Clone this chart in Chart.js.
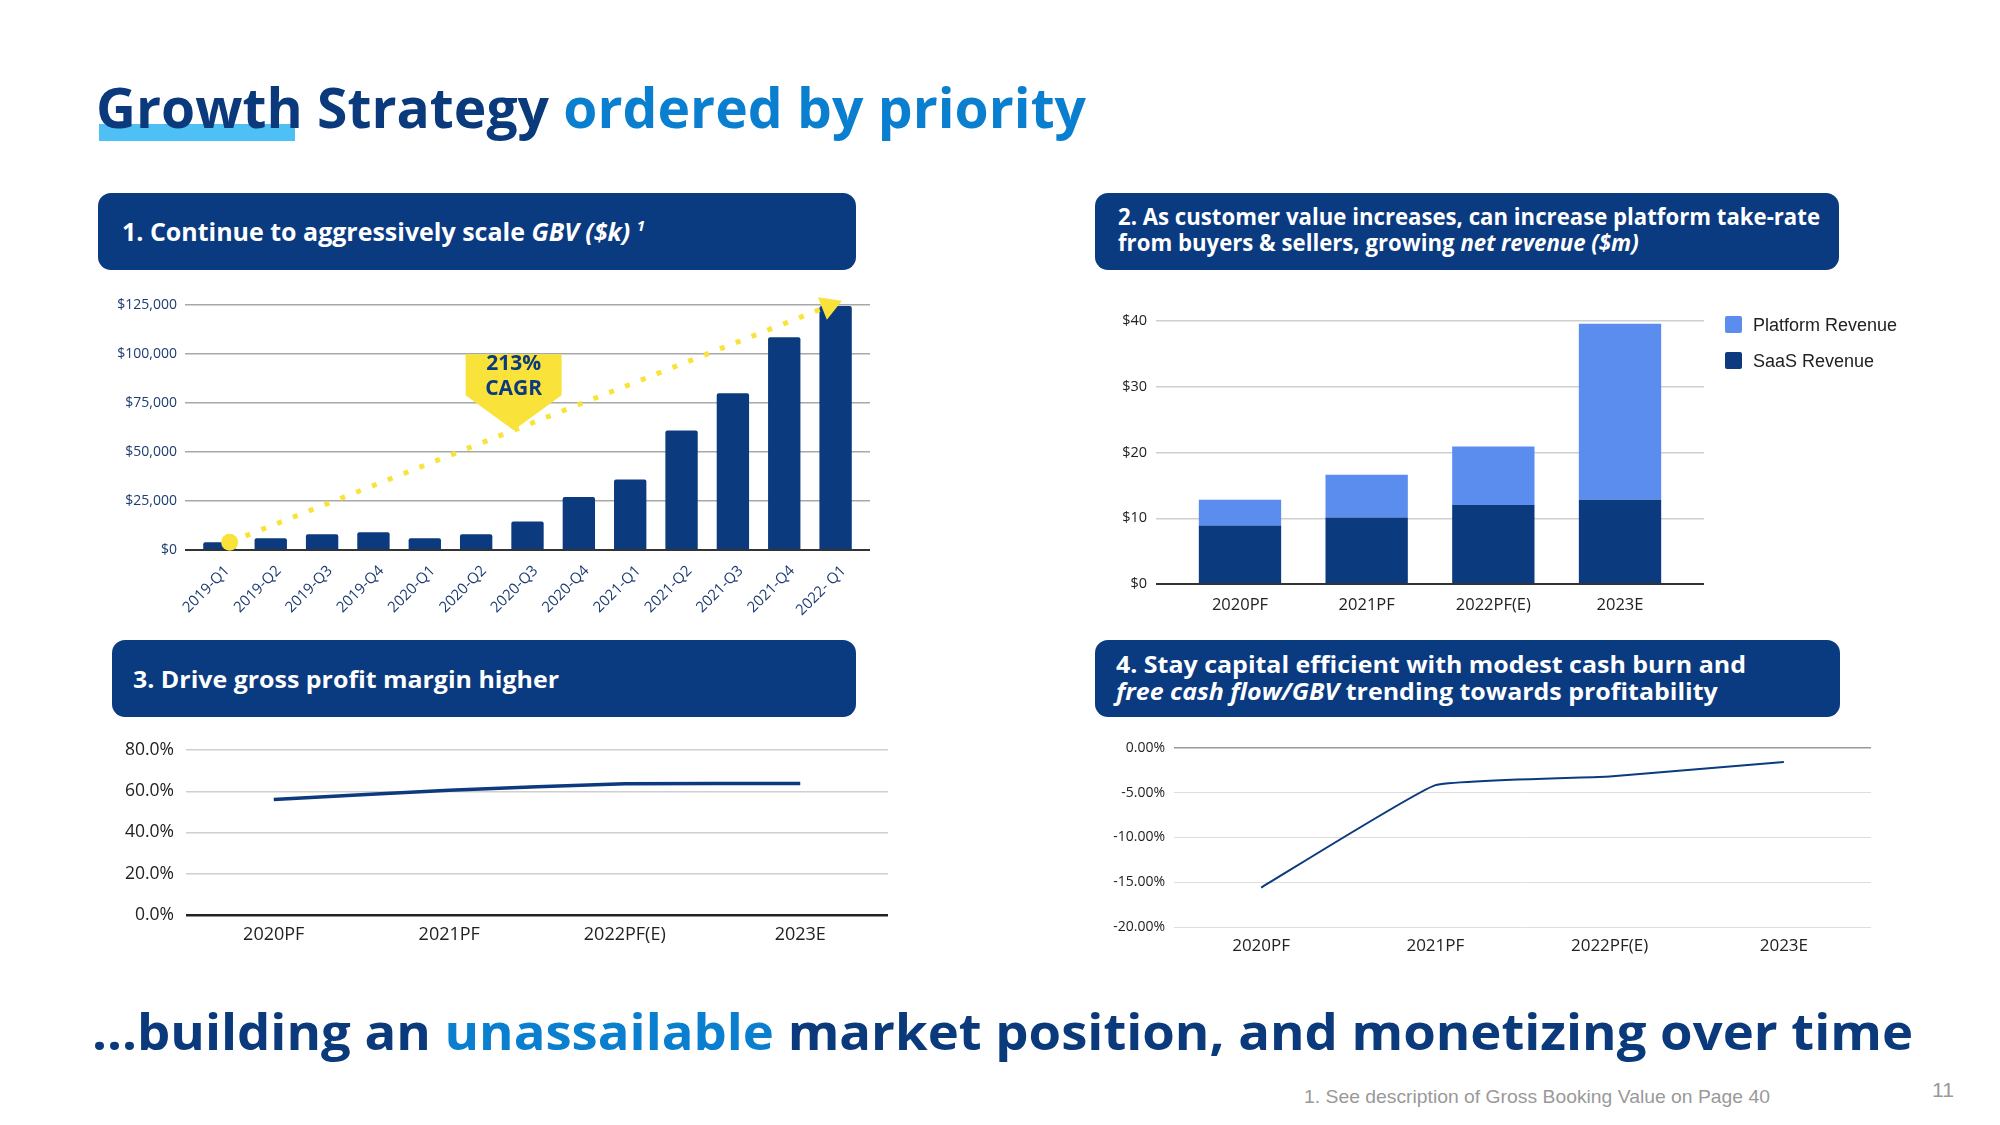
<!DOCTYPE html>
<html><head><meta charset="utf-8">
<script src="https://cdn.jsdelivr.net/npm/chart.js@4"></script>
<style>
html,body{margin:0;padding:0;background:#fff;}
body{width:2000px;height:1125px;position:relative;overflow:hidden;font-family:'Open Sans',sans-serif;}
.t{position:absolute;white-space:nowrap;line-height:1;transform-origin:0 0;}
.box{position:absolute;background:#0a3a80;border-radius:13px;}
canvas{position:absolute;}
.hl{position:absolute;background:#4fc0f5;}
.lg{position:absolute;width:17px;height:17px;border-radius:2px;}
</style></head><body>
<div class="hl" style="left:99px;top:124px;width:196px;height:17px"></div>
<div class="box" style="left:98px;top:193px;width:758px;height:77px"></div>
<div class="box" style="left:1095px;top:193px;width:744px;height:77px"></div>
<div class="box" style="left:112px;top:640px;width:744px;height:77px"></div>
<div class="box" style="left:1095px;top:640px;width:745px;height:77px"></div>
<canvas id="c1" width="800" height="370" style="left:90px;top:290px"></canvas>
<canvas id="c2" width="640" height="340" style="left:1100px;top:290px"></canvas>
<canvas id="c3" width="820" height="230" style="left:90px;top:735px"></canvas>
<canvas id="c4" width="800" height="240" style="left:1090px;top:735px"></canvas>
<script>
// ---------- data ----------
const gbvCats = ['2019-Q1','2019-Q2','2019-Q3','2019-Q4','2020-Q1','2020-Q2','2020-Q3','2020-Q4','2021-Q1','2021-Q2','2021-Q3','2021-Q4','2022- Q1'];
const gbvValues = [4000,6000,8000,9000,6000,8000,14500,27000,36000,61000,80000,108500,124500];
const gbvTicks = [0,25000,50000,75000,100000,125000];
const trendX = [0.2, 11.87];
const trendY = [4000, 124500];
const cagrAt = 5.73;
const cagrLabel = ['213%','CAGR'];

const revCats = ['2020PF','2021PF','2022PF(E)','2023E'];
const saasRevenue = [8.9,10.1,12.0,12.8];
const platformRevenue = [3.9,6.5,8.9,26.8];
const revTicks = [0,10,20,30,40];

const marginCats = ['2020PF','2021PF','2022PF(E)','2023E'];
const grossMargin = [56.0,60.5,63.6,63.8];
const marginTicks = [0,20,40,60,80];

const fcfCats = ['2020PF','2021PF','2022PF(E)','2023E'];
const fcfToGbv = [-15.6,-4.15,-3.18,-1.57];
const fcfTicks = [-20,-15,-10,-5,0];

// ---------- styles ----------
const NAVY='#0b3a7e', LIGHT='#5b8def', YEL='#f9e23a', DARKTXT='#222';
Chart.defaults.font.family="'Open Sans', sans-serif";

const texts = [
 {html:'<span style="color:#0b3a7c">Growth Strategy</span> <span style="color:#0a7ecf">ordered by priority</span>', left:96, base:128, size:56, width:990},
 {html:'1. Continue to aggressively scale <i>GBV ($k)</i> <i style="font-size:0.6em;position:relative;top:-0.7em">1</i>', left:122, base:241, size:25, width:523, color:'#fff'},
 {html:'2. As customer value increases, can increase platform take-rate', left:1118, base:225, size:22.5, width:702, color:'#fff', key:'h2'},
 {html:'from buyers &amp; sellers, growing <i>net revenue ($m)</i>', left:1118, base:251, size:22.5, color:'#fff', same:'h2'},
 {html:'3. Drive gross profit margin higher', left:133, base:688, size:24, width:426, color:'#fff'},
 {html:'4. Stay capital efficient with modest cash burn and', left:1116, base:673, size:22.5, width:630, color:'#fff', key:'h4'},
 {html:'<i>free cash flow/GBV</i> trending towards profitability', left:1116, base:700, size:22.5, color:'#fff', same:'h4'},
 {html:'...building an <span style="color:#0a7ecf">unassailable</span> market position, and monetizing over time', left:92, base:1050, size:50, width:1821, color:'#0b3a7c'},
 {html:'1. See description of Gross Booking Value on Page 40', left:1304, base:1103, size:19, width:466, color:'#999', weight:400, family:"'Liberation Sans', Arial, sans-serif"},
 {html:'11', left:1932, base:1097, size:21, width:22, color:'#999', weight:400, family:"'Liberation Sans', Arial, sans-serif"}
];
const scales={};
function placeText(o){
  const d=document.createElement('div'); d.className='t';
  d.style.left=o.left+'px'; d.style.fontSize=o.size+'px'; d.style.fontWeight=o.weight||700;
  d.style.fontFamily=o.family||"'Open Sans', sans-serif"; d.style.color=o.color||'#0b3a7c';
  d.innerHTML=o.html+'<span style="display:inline-block;width:0;height:0"></span>';
  document.body.appendChild(d);
  const off=d.lastChild.offsetTop;
  d.style.top=(o.base-off)+'px';
  let sx=1;
  if(o.width){ sx=o.width/d.getBoundingClientRect().width; }
  else if(o.same){ sx=scales[o.same]; }
  if(o.key) scales[o.key]=sx;
  d.style.transform='scaleX('+sx+')';
}

function gridColor(zero, other){ return c=>c.tick && c.tick.value===0 ? zero : other; }
function fixY(w){ return s=>{ s.width=w; s.paddingTop=0; s.paddingBottom=0; }; }
const base={responsive:false,animation:false,events:[],plugins:{legend:{display:false},tooltip:{enabled:false}}};

function drawCharts(){
 // Chart 1: GBV
 const cagrPlugin={id:'cagr',afterDatasetsDraw(chart){
   const {ctx,scales:{x,y}}=chart;
   const t=(cagrAt-trendX[0])/(trendX[1]-trendX[0]);
   const ax=x.getPixelForValue(cagrAt), ay=y.getPixelForValue(trendY[0]+t*(trendY[1]-trendY[0]));
   const w=96, top=76, mid=35;
   ctx.save(); ctx.fillStyle=YEL; ctx.beginPath();
   ctx.moveTo(ax-w/2,ay-top); ctx.lineTo(ax+w/2,ay-top); ctx.lineTo(ax+w/2,ay-mid);
   ctx.lineTo(ax,ay); ctx.lineTo(ax-w/2,ay-mid); ctx.closePath(); ctx.fill();
   ctx.fillStyle=NAVY; ctx.font="700 21px 'Open Sans'"; ctx.textAlign='center'; ctx.textBaseline='middle';
   ctx.fillText(cagrLabel[0],ax,ay-66); ctx.fillText(cagrLabel[1],ax,ay-41);
   ctx.restore();
 }};
 new Chart(document.getElementById('c1'),{type:'bar',
  data:{datasets:[
   {type:'line',data:trendX.map((x,i)=>({x:x,y:trendY[i]})),borderColor:YEL,borderWidth:5,borderDash:[5,12],borderCapStyle:'butt',fill:false,
    pointRadius:[8.5,14],pointStyle:['circle','triangle'],pointBackgroundColor:YEL,pointBorderWidth:0,pointBorderColor:YEL,
    pointRotation:ctx=>{ if(ctx.dataIndex===0) return 0; const sx=ctx.chart.scales.x, sy=ctx.chart.scales.y;
      const dx=sx.getPixelForValue(trendX[1])-sx.getPixelForValue(trendX[0]);
      const dy=sy.getPixelForValue(trendY[1])-sy.getPixelForValue(trendY[0]);
      return Math.atan2(dx,-dy)*180/Math.PI; },
    order:0,clip:false},
   {type:'bar',data:gbvCats.map((c,i)=>({x:i,y:gbvValues[i]})),backgroundColor:NAVY,barPercentage:0.63,categoryPercentage:1,borderRadius:2,borderSkipped:'bottom',order:1}
  ]},
  options:{...base,layout:{padding:{top:15,right:20,left:0,bottom:0}},
   scales:{
    x:{type:'linear',offset:false,min:-0.67,max:12.67,afterBuildTicks:s=>{s.ticks=gbvCats.map((c,i)=>({value:i}));},afterFit:s=>{s.height=110;},
       grid:{display:false},border:{display:false},
       ticks:{autoSkip:false,minRotation:45,maxRotation:45,padding:4,labelOffset:8,color:'#1e3c72',font:{size:15},callback:v=>gbvCats[Math.round(v)]}},
    y:{min:0,max:125000,afterBuildTicks:s=>{s.ticks=gbvTicks.map(v=>({value:v}));},afterFit:fixY(95),border:{display:false},
       grid:{drawTicks:false,color:gridColor('#333','#a8a8a8'),lineWidth:c=>c.tick&&c.tick.value===0?2:1.5},
       ticks:{padding:8,color:'#1e3c72',font:{size:14},callback:v=>'$'+Number(v).toLocaleString('en-US')}}
   }},
  plugins:[cagrPlugin]});

 // Chart 2: revenue stacked
 const revSets=[
  {label:'SaaS Revenue',data:revCats.map((c,i)=>({x:i,y:saasRevenue[i]})),backgroundColor:NAVY},
  {label:'Platform Revenue',data:revCats.map((c,i)=>({x:i,y:platformRevenue[i]})),backgroundColor:LIGHT}
 ];
 revSets.forEach(d=>{d.barPercentage=0.65;d.categoryPercentage=1;d.borderRadius=0;});
 new Chart(document.getElementById('c2'),{type:'bar',data:{datasets:revSets},
  options:{...base,layout:{padding:{top:31,right:36,left:0,bottom:0}},
   scales:{
    x:{type:'linear',offset:false,stacked:true,min:-0.663,max:3.663,afterBuildTicks:s=>{s.ticks=revCats.map((c,i)=>({value:i}));},afterFit:s=>{s.height=46;},
       grid:{display:false,drawTicks:false},border:{display:false},
       ticks:{autoSkip:false,maxRotation:0,padding:11,color:DARKTXT,font:{size:16.5},callback:v=>revCats[Math.round(v)]}},
    y:{stacked:true,min:0,max:40,afterBuildTicks:s=>{s.ticks=revTicks.map(v=>({value:v}));},afterFit:fixY(56),border:{display:false},
       grid:{drawTicks:false,color:gridColor('#333','#cfcfcf'),lineWidth:c=>c.tick&&c.tick.value===0?2:1.5},
       ticks:{padding:9,color:DARKTXT,font:{size:14.5},callback:v=>'$'+v}}
   }}});
 // HTML legend (reverse dataset order, as in the reference)
 revSets.slice().reverse().forEach((d,i)=>{
   const sq=document.createElement('div'); sq.className='lg'; sq.style.left='1725px'; sq.style.top=(316+i*36)+'px'; sq.style.background=d.backgroundColor; document.body.appendChild(sq);
   placeText({html:d.label,left:1753,base:331+i*36,size:18,color:'#222',weight:400,family:"'Liberation Sans', Arial, sans-serif"});
 });

 // Chart 3: gross margin
 new Chart(document.getElementById('c3'),{type:'line',
  data:{labels:marginCats,datasets:[{data:grossMargin,borderColor:NAVY,borderWidth:3.5,pointRadius:0,tension:0.15,fill:false}]},
  options:{...base,layout:{padding:{top:15,right:22,left:0,bottom:0}},
   scales:{
    x:{offset:true,afterFit:s=>{s.height=50;},grid:{display:false,drawTicks:false},border:{display:false},ticks:{padding:9,color:DARKTXT,font:{size:18}}},
    y:{min:0,max:80,afterBuildTicks:s=>{s.ticks=marginTicks.map(v=>({value:v}));},afterFit:fixY(96),border:{display:false},
       grid:{drawTicks:false,color:gridColor('#222','#cfcfcf'),lineWidth:c=>c.tick&&c.tick.value===0?2.5:1.5},
       ticks:{padding:12,color:DARKTXT,font:{size:17.5},callback:v=>Number(v).toFixed(1)+'%'}}
   }}});

 // Chart 4: FCF / GBV
 new Chart(document.getElementById('c4'),{type:'line',
  data:{labels:fcfCats,datasets:[{data:fcfToGbv,borderColor:NAVY,borderWidth:2,pointRadius:0,tension:0.1,fill:false}]},
  options:{...base,layout:{padding:{top:13,right:19,left:0,bottom:0}},
   scales:{
    x:{offset:true,afterFit:s=>{s.height=48;},grid:{display:false,drawTicks:false},border:{display:false},ticks:{padding:9,color:DARKTXT,font:{size:17}}},
    y:{min:-20,max:0,afterBuildTicks:s=>{s.ticks=fcfTicks.map(v=>({value:v}));},afterFit:fixY(84),border:{display:false},
       grid:{drawTicks:false,color:gridColor('#999','#dedede'),lineWidth:c=>c.tick&&c.tick.value===0?1.5:1},
       ticks:{padding:9,color:DARKTXT,font:{size:14},callback:v=>Number(v).toFixed(2)+'%'}}
   }}});
}

function init(){ texts.forEach(placeText); drawCharts(); }
if(document.fonts && document.fonts.ready){ document.fonts.ready.then(init); } else { init(); }
</script>
</body></html>
